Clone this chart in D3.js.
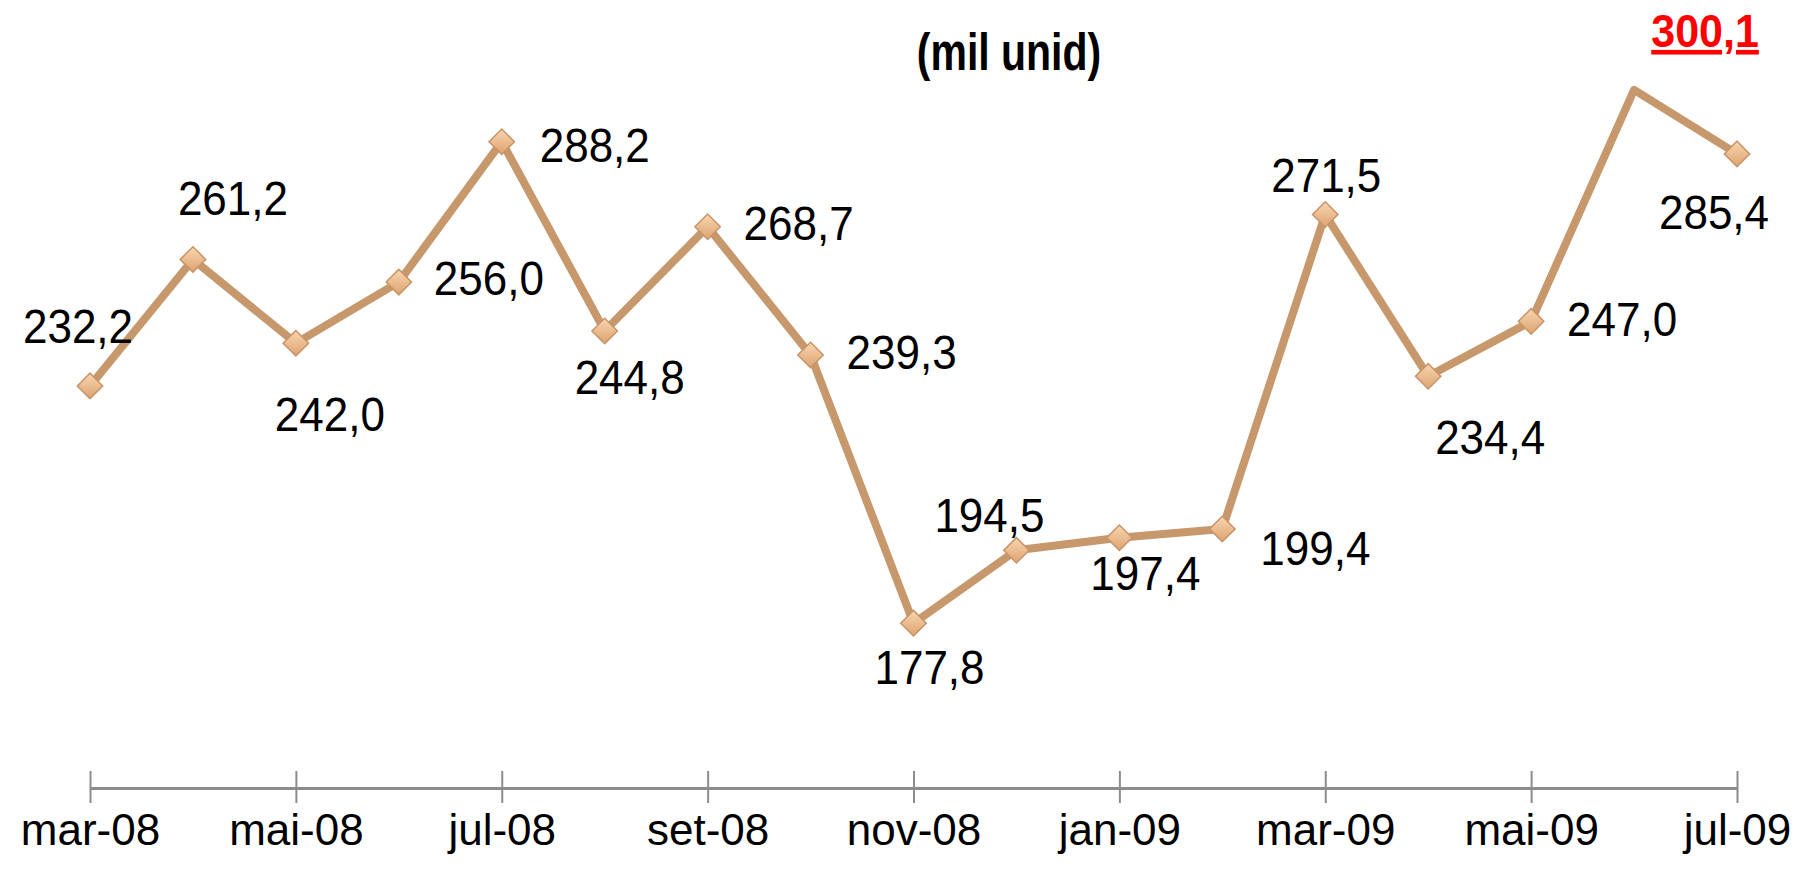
<!DOCTYPE html>
<html>
<head>
<meta charset="utf-8">
<script src="https://cdn.jsdelivr.net/npm/d3@7"></script>
<style>
  body { margin: 0; background: #fff; }
  #graph { width: 1810px; height: 872px; }
  text { font-family: "Liberation Sans", Arial, sans-serif; }
</style>
</head>
<body>
<div id="graph"></div>
<script>
// months (one point per month) and the values in mil unid
var months = ["mar-08","abr-08","mai-08","jun-08","jul-08","ago-08","set-08","out-08","nov-08",
              "dez-08","jan-09","fev-09","mar-09","abr-09","mai-09","jun-09","jul-09"];
var values = [232.2, 261.2, 242.0, 256.0, 288.2, 244.8, 268.7, 239.3, 177.8,
              194.5, 197.4, 199.4, 271.5, 234.4, 247.0, 300.1, 285.4];
// only every second month gets a tick label
var tickLabels = ["mar-08","mai-08","jul-08","set-08","nov-08","jan-09","mar-09","mai-09","jul-09"];
var highlight = "jun-09";   // the record month, shown in red

// where each data label sits relative to its point (layout only)
var labelNudge = [[-12,-43],[40,-44],[34,88],[90,13],[93,20],[25,63],[91,13],[91,14],[16,61],
                  [-27,-18],[26,52],[93,36],[1,-23],[62,78],[91,15],[71,-43],[-23,75]];

var width = 1810, height = 872;

var svg = d3.select("#graph")
  .append("svg")
  .attr("width", width)
  .attr("height", height);

var x = d3.scalePoint()
  .domain(months)
  .range([90, 1737]);

var y = d3.scaleLinear()
  .domain([140, 320])
  .range([788, 3]);

// gradient for the diamond markers
var defs = svg.append("defs");
var grad = defs.append("linearGradient")
  .attr("id", "markerGrad")
  .attr("x1", "0%").attr("y1", "0%")
  .attr("x2", "100%").attr("y2", "100%");
grad.append("stop").attr("offset", "0%").attr("stop-color", "#F9D6B0");
grad.append("stop").attr("offset", "100%").attr("stop-color", "#DDA371");

// title (subtitle line, the main one is cut off at the top)
svg.append("text")
  .attr("transform", "translate(1009,70) scale(1,1.25)")
  .attr("text-anchor", "middle")
  .style("font-size", "41px")
  .style("font-weight", "bold")
  .attr("fill", "#000")
  .text("(mil unid)");

// x axis
var axis = d3.axisBottom(x)
  .tickValues(tickLabels)
  .tickSizeInner(0)
  .tickSizeOuter(0)
  .tickPadding(24);

var gx = svg.append("g")
  .attr("transform", "translate(0,788)")
  .call(axis);

gx.select(".domain")
  .attr("stroke", "#8c8c8c")
  .attr("stroke-width", 3);

gx.selectAll(".tick line").remove();
gx.selectAll(".tick").append("line")
  .attr("y1", -17)
  .attr("y2", 15)
  .attr("stroke", "#8c8c8c")
  .attr("stroke-width", 2);

gx.selectAll(".tick text")
  .attr("fill", "#000")
  .attr("dy", "0.75em")
  .style("font-size", "44px")
  .style("font-family", "'Liberation Sans', Arial, sans-serif");

// the line
var line = d3.line()
  .x(function(d, i) { return x(months[i]); })
  .y(function(d) { return y(d); });

svg.append("path")
  .datum(values)
  .attr("d", line)
  .attr("fill", "none")
  .attr("stroke", "#C6986C")
  .attr("stroke-width", 8)
  .attr("stroke-linejoin", "round");

// diamond markers (none on the highlighted month)
svg.selectAll("rect.marker")
  .data(values.filter(function(d, i) { return months[i] !== highlight; }))
  .enter()
  .append("rect")
    .attr("class", "marker")
    .attr("x", -9)
    .attr("y", -9)
    .attr("width", 18)
    .attr("height", 18)
    .attr("transform", function(d) {
      var i = values.indexOf(d);
      return "translate(" + x(months[i]) + "," + y(d) + ") rotate(45)";
    })
    .attr("fill", "url(#markerGrad)")
    .attr("stroke", "#C89468")
    .attr("stroke-width", 1.5);

// data labels
function fmt(v) { return v.toFixed(1).replace(".", ","); }

svg.append("g")
  .selectAll("text")
  .data(values)
  .enter().append("text")
    .attr("transform", function(d, i) {
      return "translate(" + (x(months[i]) + labelNudge[i][0]) + "," + (y(d) + labelNudge[i][1]) + ") scale(1,1.08)";
    })
    .attr("text-anchor", "middle")
    .style("font-size", function(d, i) { return months[i] === highlight ? "43px" : "44px"; })
    .style("font-weight", function(d, i) { return months[i] === highlight ? "bold" : "normal"; })
    .style("text-decoration", function(d, i) { return months[i] === highlight ? "underline" : "none"; })
    .attr("fill", function(d, i) { return months[i] === highlight ? "#FF0000" : "#000"; })
    .text(function(d) { return fmt(d); });
</script>
</body>
</html>
